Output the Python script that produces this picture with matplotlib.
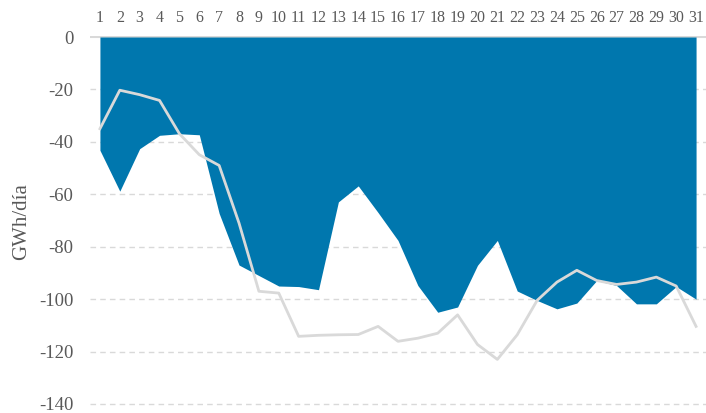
import numpy as np
import matplotlib
matplotlib.use('Agg')
import matplotlib.pyplot as plt

plt.rcParams['font.family'] = ['Liberation Serif', 'DejaVu Serif']

# Data
days = list(range(1, 32))
area_vals = [-43.2, -58.8, -42.6, -37.5, -36.9, -37.3, -67.3, -87.0, -91.0, -95.0,
             -95.2, -96.4, -62.9, -56.8, -67.0, -77.6, -94.8, -105.0, -103.0, -87.1,
             -77.6, -96.9, -100.5, -103.7, -101.5, -92.9, -94.8, -101.8, -101.8, -95.2,
             -100.0]
line_vals = [-35.0, -20.3, -22.0, -24.2, -36.9, -44.9, -49.0, -71.0, -97.0, -97.7,
             -114.2, -113.8, -113.6, -113.5, -110.4, -116.1, -114.9, -113.0, -106.0, -117.3,
             -123.0, -113.6, -100.5, -93.5, -89.0, -92.9, -94.4, -93.5, -91.6, -95.0,
             -110.4]
yticks = [0, -20, -40, -60, -80, -100, -120, -140]

blue = '#0077ae'
grey_line = '#d9d9d9'
txt = '#595959'

fig = plt.figure(figsize=(7.06, 4.13), dpi=100)
ax = fig.add_axes([90 / 706, 1 - 406.6 / 413, 1 - 90 / 706, 370.9 / 413])

# grid lines
for yv in yticks:
    if yv == 0:
        ax.axhline(yv, color='#d9d9d9', lw=1.5, zorder=0)
    else:
        ax.axhline(yv, color='#d9d9d9', lw=1.0, ls=(0, (4, 3)), zorder=0)

ax.fill_between(days, 0, area_vals, color=blue, lw=0, zorder=2)
ax.plot(days, line_vals, color=grey_line, lw=2, zorder=3)

ax.set_xlim(0.5, 31.5)
ax.set_ylim(-141, 0.5)

ax.xaxis.tick_top()
ax.set_xticks(days)
ax.set_xticklabels([str(d) for d in days])
ax.set_yticks(yticks)
ax.set_yticklabels([str(v) for v in yticks])
ax.tick_params(axis='x', length=0, pad=7, labelsize=11.5, colors=txt)
ax.tick_params(axis='y', length=0, pad=12, labelsize=13.5, colors=txt)
ax.set_ylabel('GWh/día', fontsize=15, color=txt, labelpad=6)

for s in ax.spines.values():
    s.set_visible(False)

fig.savefig('out.png', dpi=100)
